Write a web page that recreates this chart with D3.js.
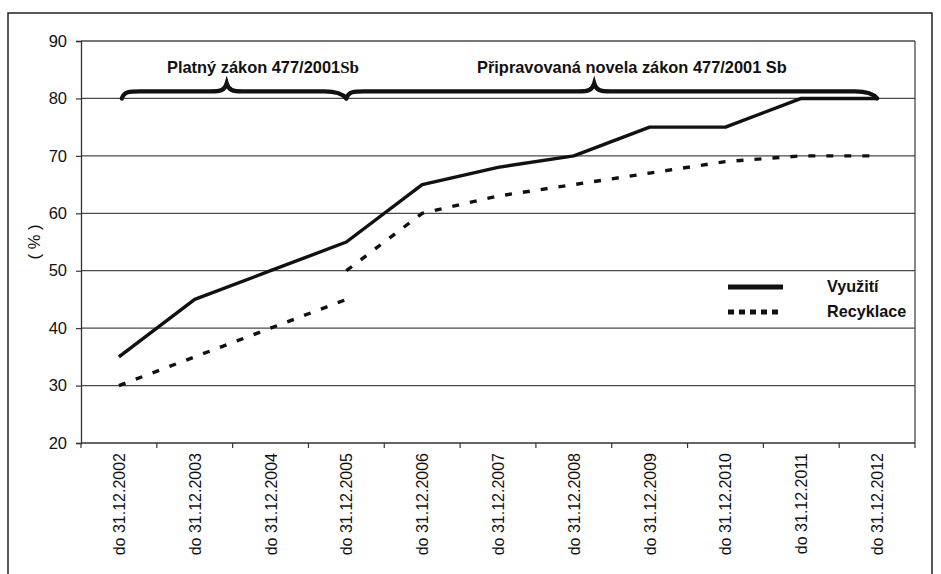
<!DOCTYPE html>
<html>
<head>
<meta charset="utf-8">
<script src="https://cdn.jsdelivr.net/npm/d3@7"></script>
<style>
  html, body { margin: 0; padding: 0; background: #fff; }
  svg { display: block; }
  text { font-family: Arial, "Liberation Sans", sans-serif; fill: #111; }
</style>
</head>
<body>
<svg id="chart" width="941" height="574"></svg>
<script>
// Termíny (kategorie osy x)
const categories = [
  "do 31.12.2002", "do 31.12.2003", "do 31.12.2004", "do 31.12.2005",
  "do 31.12.2006", "do 31.12.2007", "do 31.12.2008", "do 31.12.2009",
  "do 31.12.2010", "do 31.12.2011", "do 31.12.2012"
];

// Využití (%) pro každý termín
const vyuziti = [35, 45, 50, 55, 65, 68, 70, 75, 75, 80, 80];

// Recyklace (%) – platný zákon (2002–2005) a novela (2005–2012)
const recyklacePlatny = [30, 35, 40, 45];
const recyklaceNovela = [50, 60, 63, 65, 67, 69, 70, 70];
const novelaStart = 3; // index termínu, od kterého platí novela

const yTicks = [20, 30, 40, 50, 60, 70, 80, 90];

// Složené závorky nad grafem: rozsah termínů a popisek
const braceFrom = [0, 3];
const braceTo = [3, 10];
const braceLabels = ["Platný zákon 477/2001", "Připravovaná novela zákon 477/2001 Sb"];

const legendLabels = ["Využití", "Recyklace"];

const svg = d3.select("#chart");
const W = 941, H = 574;
const plot = { left: 81, right: 915, top: 41, bottom: 443 };

// outer frame
svg.append("path")
  .attr("d", `M8,${H + 2} L8,13 L932,13 L932,${H + 2}`)
  .attr("fill", "none").attr("stroke", "#222").attr("stroke-width", 1.5);

const x = d3.scaleBand().domain(categories).range([plot.left, plot.right]).paddingInner(0).paddingOuter(0);
const xc = i => x(categories[i]) + x.bandwidth() / 2;
const y = d3.scaleLinear().domain([20, 90]).range([plot.bottom, plot.top]);

// horizontal gridlines
svg.append("g").selectAll("line").data(yTicks.slice(1)).join("line")
  .attr("x1", plot.left).attr("x2", plot.right)
  .attr("y1", d => y(d)).attr("y2", d => y(d))
  .attr("stroke", "#4a4a4a").attr("stroke-width", 1.3);

// right border of plot area
svg.append("line")
  .attr("x1", plot.right).attr("x2", plot.right)
  .attr("y1", plot.top).attr("y2", plot.bottom)
  .attr("stroke", "#4a4a4a").attr("stroke-width", 1.3);

// y axis
const yAxis = d3.axisLeft(y).tickValues(yTicks).tickSize(5).tickPadding(9);
const gy = svg.append("g").attr("transform", `translate(${plot.left},0)`).call(yAxis);
gy.select(".domain").attr("stroke", "#333").attr("stroke-width", 1.3);
gy.selectAll(".tick line").attr("stroke", "#333").attr("stroke-width", 1.2);
gy.selectAll(".tick text").attr("font-size", 16.5).attr("font-family", "Arial, 'Liberation Sans', sans-serif").attr("fill", "#111");

// x axis (ticks on category boundaries)
svg.append("line")
  .attr("x1", plot.left).attr("x2", plot.right)
  .attr("y1", plot.bottom).attr("y2", plot.bottom)
  .attr("stroke", "#333").attr("stroke-width", 1.3);
const boundaries = d3.range(categories.length + 1).map(i => plot.left + i * x.bandwidth());
svg.append("g").selectAll("line").data(boundaries).join("line")
  .attr("x1", d => d).attr("x2", d => d)
  .attr("y1", plot.bottom).attr("y2", plot.bottom + 5)
  .attr("stroke", "#333").attr("stroke-width", 1.2);
svg.append("g").selectAll("text").data(categories).join("text")
  .attr("transform", (d, i) => `translate(${xc(i) + 6},${plot.bottom + 10}) rotate(-90)`)
  .attr("text-anchor", "end")
  .attr("font-size", 16)
  .text(d => d);

// y axis title
svg.append("text")
  .attr("transform", `translate(40,${(y(50) + y(60)) / 2}) rotate(-90)`)
  .attr("text-anchor", "middle")
  .attr("font-size", 16.5)
  .text("( % )");

// series lines
const line = d3.line().x(d => xc(d[0])).y(d => y(d[1]));
svg.append("path")
  .attr("d", line(vyuziti.map((v, i) => [i, v])))
  .attr("fill", "none").attr("stroke", "#111").attr("stroke-width", 3.4)
  .attr("stroke-linejoin", "round");
svg.append("path")
  .attr("d", line(recyklacePlatny.map((v, i) => [i, v])))
  .attr("fill", "none").attr("stroke", "#111").attr("stroke-width", 3.4)
  .attr("stroke-dasharray", "7,11");
svg.append("path")
  .attr("d", line(recyklaceNovela.map((v, i) => [i + novelaStart, v])))
  .attr("fill", "none").attr("stroke", "#111").attr("stroke-width", 3.4)
  .attr("stroke-dasharray", "7,11");

// curly braces
function bracePath(x0, x1) {
  const yb = y(80), yh = yb - 7, yp = yb - 15;
  const xm = x0 + 0.467 * (x1 - x0);
  return `M${x0},${yb} C${x0 + 2},${yh} ${x0 + 8},${yh} ${x0 + 18},${yh}` +
    ` L${xm - 16},${yh} C${xm - 6},${yh} ${xm - 2},${yh - 1} ${xm},${yp}` +
    ` C${xm + 2},${yh - 1} ${xm + 6},${yh} ${xm + 16},${yh}` +
    ` L${x1 - 22},${yh} C${x1 - 10},${yh} ${x1 - 4},${yh + 2} ${x1},${yb}`;
}
braceFrom.forEach((f, k) => {
  const x0 = k === 0 ? xc(f) + 3 : xc(f);
  svg.append("path")
    .attr("d", bracePath(x0, xc(braceTo[k])))
    .attr("fill", "none").attr("stroke", "#111").attr("stroke-width", 4.3)
    .attr("stroke-linecap", "round");
});

// brace labels
const t1 = svg.append("text").attr("x", 167).attr("y", 73)
  .attr("font-size", 16.4).attr("font-weight", "bold");
t1.append("tspan").text(braceLabels[0]);
t1.append("tspan").attr("font-family", "'Liberation Serif', 'Times New Roman', serif").attr("font-size", 17).text("Sb");
svg.append("text").attr("x", 477).attr("y", 73)
  .attr("font-size", 16.4).attr("font-weight", "bold")
  .text(braceLabels[1]);

// legend
const lg = svg.append("g");
lg.append("line").attr("x1", 728).attr("x2", 783).attr("y1", 287).attr("y2", 287)
  .attr("stroke", "#111").attr("stroke-width", 5);
lg.append("line").attr("x1", 728).attr("x2", 783).attr("y1", 312).attr("y2", 312)
  .attr("stroke", "#111").attr("stroke-width", 5).attr("stroke-dasharray", "6,5");
lg.append("text").attr("x", 827).attr("y", 292).attr("font-size", 16.2).attr("font-weight", "bold").text(legendLabels[0]);
lg.append("text").attr("x", 827).attr("y", 317).attr("font-size", 16.2).attr("font-weight", "bold").text(legendLabels[1]);
</script>
</body>
</html>
